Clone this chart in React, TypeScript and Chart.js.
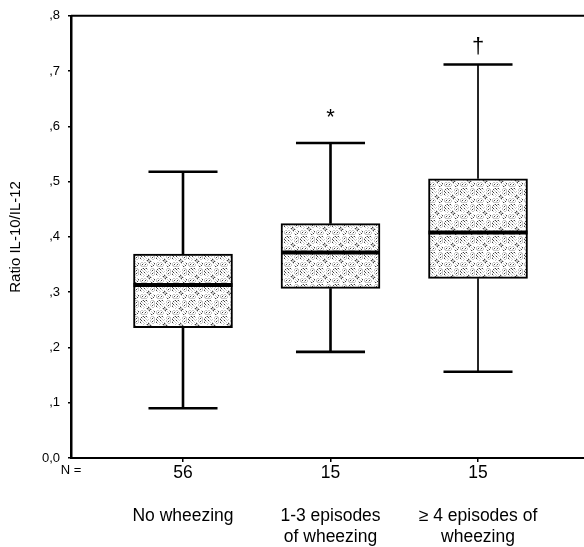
import React, { useEffect, useRef } from "react";
import { Chart, registerables } from "chart.js";
Chart.register(...registerables);

// ---- data ----
const categories: string[][] = [["No wheezing"], ["1-3 episodes", "of wheezing"], ["≥ 4 episodes of", "wheezing"]];
const counts: string[] = ["56", "15", "15"];
const whiskerLow: number[] = [0.09, 0.192, 0.156];
const q1: number[] = [0.236, 0.307, 0.325];
const median: number[] = [0.313, 0.372, 0.408];
const q3: number[] = [0.369, 0.424, 0.505];
const whiskerHigh: number[] = [0.518, 0.57, 0.712];
const markers: string[] = ["", "*", "†"];
const markerValues: number[] = [0, 0.605, 0.733];
const yMin = 0;
const yMax = 0.8;
const yStep = 0.1;

// ---- layout / style constants ----
const X_MIN = 0.2407;
const X_MAX = 3.7186;
const CAP_HALF = 0.234; // in x units
const WHISKER_WIDTHS = [2.6, 2.6, 1.7];
const FONT = '"Liberation Sans", Arial, Helvetica, sans-serif';

function makeStipple(ctx: CanvasRenderingContext2D): CanvasPattern | string {
  const c = document.createElement("canvas");
  c.width = 16;
  c.height = 16;
  const g = c.getContext("2d");
  if (!g) return "#d4d4d4";
  g.fillStyle = "#ffffff";
  g.fillRect(0, 0, 16, 16);
  for (let y = 0; y < 16; y++) {
    for (let x = 0; x < 16; x++) {
      const h = (x * 73 + y * 151 + x * y * 17) % 13;
      if (h === 0) {
        g.fillStyle = "#444444";
        g.fillRect(x, y, 1, 1);
      } else if (h === 2 || h === 7 || h === 9 || h === 11) {
        g.fillStyle = "#c8c8c8";
        g.fillRect(x, y, 1, 1);
      }
    }
  }
  return ctx.createPattern(c, "repeat") || "#d4d4d4";
}

const boxPlugin = {
  id: "boxParts",
  beforeDatasetsDraw(chart: any) {
    const { ctx, scales } = chart;
    const xs = scales.x;
    const ys = scales.y;
    ctx.save();
    ctx.strokeStyle = "#000";
    for (let i = 0; i < categories.length; i++) {
      const cx = xs.getPixelForValue(i + 1);
      ctx.lineWidth = WHISKER_WIDTHS[i];
      ctx.beginPath();
      ctx.moveTo(cx, ys.getPixelForValue(q3[i]));
      ctx.lineTo(cx, ys.getPixelForValue(whiskerHigh[i]));
      ctx.moveTo(cx, ys.getPixelForValue(q1[i]));
      ctx.lineTo(cx, ys.getPixelForValue(whiskerLow[i]));
      ctx.stroke();
      ctx.lineWidth = 2.6;
      const l = xs.getPixelForValue(i + 1 - CAP_HALF);
      const r = xs.getPixelForValue(i + 1 + CAP_HALF);
      ctx.beginPath();
      ctx.moveTo(l, ys.getPixelForValue(whiskerHigh[i]));
      ctx.lineTo(r, ys.getPixelForValue(whiskerHigh[i]));
      ctx.moveTo(l, ys.getPixelForValue(whiskerLow[i]));
      ctx.lineTo(r, ys.getPixelForValue(whiskerLow[i]));
      ctx.stroke();
    }
    ctx.restore();
  },
  afterDatasetsDraw(chart: any) {
    const { ctx, scales, chartArea } = chart;
    const xs = scales.x;
    const ys = scales.y;
    const meta = chart.getDatasetMeta(0);
    ctx.save();
    ctx.strokeStyle = "#000";
    ctx.lineWidth = 4;
    for (let i = 0; i < categories.length; i++) {
      const bar = meta.data[i];
      const half = bar.width / 2;
      const y = ys.getPixelForValue(median[i]);
      ctx.beginPath();
      ctx.moveTo(bar.x - half, y);
      ctx.lineTo(bar.x + half, y);
      ctx.stroke();
    }
    // markers
    ctx.fillStyle = "#000";
    ctx.textAlign = "center";
    ctx.textBaseline = "alphabetic";
    for (let i = 0; i < markers.length; i++) {
      if (!markers[i]) continue;
      ctx.font = (markers[i] === "*" ? "22px " : "22px ") + FONT;
      ctx.fillText(markers[i], xs.getPixelForValue(i + 1), ys.getPixelForValue(markerValues[i]));
    }
    // top frame line
    ctx.lineWidth = 2;
    ctx.beginPath();
    ctx.moveTo(chartArea.left, chartArea.top);
    ctx.lineTo(chartArea.right, chartArea.top);
    ctx.stroke();
    // "N =" label
    ctx.font = "13px " + FONT;
    ctx.textBaseline = "alphabetic";
    ctx.fillText("N =", chartArea.left, 474);
    ctx.restore();
  },
};

export default function App() {
  const ref = useRef<HTMLCanvasElement | null>(null);
  useEffect(() => {
    const canvas = ref.current;
    if (!canvas) return;
    const ctx = canvas.getContext("2d");
    if (!ctx) return;
    const pattern = makeStipple(ctx);
    const chart = new Chart(ctx, {
      type: "bar",
      data: {
        datasets: [
          {
            data: categories.map((_, i) => ({ x: i + 1, y: [q1[i], q3[i]] })) as any,
            backgroundColor: pattern as any,
            borderColor: "#000",
            borderWidth: 2,
            borderSkipped: false,
            barThickness: 99,
          },
        ],
      },
      options: {
        animation: false,
        responsive: false,
        devicePixelRatio: 1,
        layout: { padding: { top: 13, left: 0, right: 0, bottom: 0 } },
        plugins: { legend: { display: false }, tooltip: { enabled: false } },
        scales: {
          x: {
            type: "linear",
            min: X_MIN,
            max: X_MAX,
            offset: false,
            afterBuildTicks: (scale: any) => {
              scale.ticks = categories.map((_, i) => ({ value: i + 1 }));
            },
            afterFit: (scale: any) => {
              scale.height = 89;
            },
            grid: { offset: false, drawOnChartArea: false, tickLength: 4, color: "#000", lineWidth: 1.5 },
            border: { display: true, color: "#000", width: 2 },
            ticks: {
              autoSkip: false,
              maxRotation: 0,
              padding: 0,
              color: "#000",
              font: { family: FONT, size: 17.5, lineHeight: 1.229 },
              callback: (_v: any, index: number) => [counts[index], "", ...categories[index]],
            },
          },
          y: {
            min: yMin,
            max: yMax,
            afterFit: (scale: any) => {
              scale.width = 71;
            },
            grid: { drawOnChartArea: false, tickLength: 3, color: "#000", lineWidth: 1.5 },
            border: { display: true, color: "#000", width: 2.5 },
            title: {
              display: true,
              text: "Ratio IL-10/IL-12",
              color: "#000",
              font: { family: FONT, size: 15 },
              padding: { top: 7, bottom: 0 },
            },
            ticks: {
              stepSize: yStep,
              padding: 8,
              color: "#000",
              font: { family: FONT, size: 13 },
              callback: (v: any) => {
                const n = Math.round(Number(v) * 10);
                return n === 0 ? "0,0" : "," + n;
              },
            },
          },
        },
      },
      plugins: [boxPlugin],
    });
    return () => chart.destroy();
  }, []);
  return (
    <div style={{ position: "absolute", left: 0, top: 0, width: 584, height: 547, background: "#fff" }}>
      <canvas ref={ref} width={584} height={547} style={{ width: 584, height: 547, display: "block" }} />
    </div>
  );
}
